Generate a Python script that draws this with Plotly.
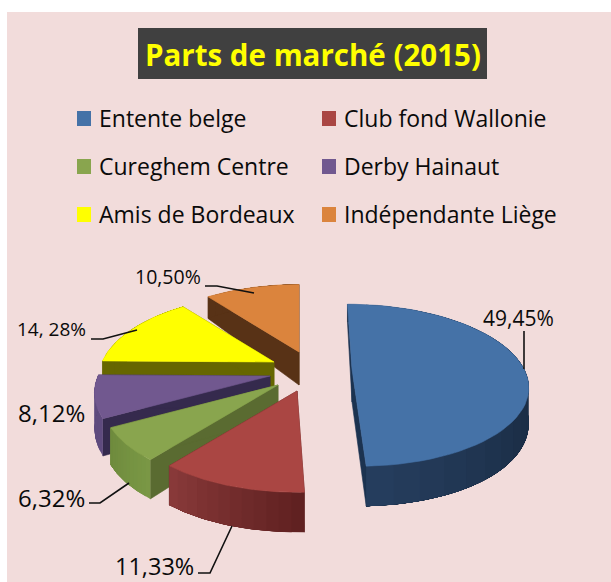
import numpy as np
import plotly.graph_objects as go

# ---- data ----
categories = ["Entente belge", "Club fond Wallonie", "Cureghem Centre",
              "Derby Hainaut", "Amis de Bordeaux", "Indépendante Liège"]
shares = [49.45, 11.33, 6.32, 8.12, 14.28, 10.50]
value_labels = ["49,45%", "11,33%", "6,32%", "8,12%", "14, 28%", "10,50%"]
title_text = "Parts de marché (2015)"

# ---- style ----
top_colors = ["#4572A7", "#AA4643", "#89A54E", "#71588F", "#FFFF00", "#DB843D"]
face_colors = ["#1c3350", "#5e2222", "#5a6b31", "#352a4d", "#666600", "#583216"]
rim_stops = [
    ["#1b2e47", "#1b2e47", "#1b2e47", "#263e5e"],
    ["#5e2020", "#8a3a3a"],
    ["#7a9845", "#6e8a3d"],
    ["#5f4b7e", "#5f4b7e"],
    ["#666600", "#666600"],
    ["#583216", "#583216"],
]
explode = [(50, -1), (-5, 21), (-24, 15), (-32, 6), (-28, -8), (-3, -18)]
shear = [0.07, 0, 0, 0, 0, 0]
yscale = [0.96, 1, 1, 1, 1, 1]
CX, CY, A, B, P = 302, 370, 172, 81, 0.2
START = 0.0


def proj(theta, i):
    t = np.radians(theta)
    s = 1 / (1 + P * np.cos(t))
    y = -B * np.cos(t) * s * yscale[i]
    return A * np.sin(t) * s + shear[i] * y, y


def depth(y):
    return 33 - 11.1 * y - 4.1 * y * y


def hex_mix(stops, f):
    f = min(max(f, 0), 1) * (len(stops) - 1)
    i = min(int(f), len(stops) - 2)
    u = f - i
    a = [int(stops[i][k:k + 2], 16) for k in (1, 3, 5)]
    b = [int(stops[i + 1][k:k + 2], 16) for k in (1, 3, 5)]
    return "rgb(%d,%d,%d)" % tuple(round(p + (q - p) * u) for p, q in zip(a, b))


def poly(xs, ys, color, lw=0.6):
    return go.Scatter(x=xs, y=ys, mode="lines", fill="toself", fillcolor=color,
                      line=dict(color=color, width=lw), hoverinfo="skip", showlegend=False)


fig = go.Figure()
sweeps = np.array(shares) / sum(shares) * 360
starts = START + np.concatenate([[0], np.cumsum(sweeps)[:-1]])
draw_order = [5, 4, 3, 2, 1, 0]
for i in draw_order:
    t0, t1 = starts[i], starts[i] + sweeps[i]
    ax, ay = CX + explode[i][0], CY + explode[i][1]
    d0 = depth(0)
    for t in (t0, t1):
        px, py = proj(t, i)
        dr = depth(np.cos(np.radians(t)))
        fig.add_trace(poly([ax, ax + px, ax + px, ax, ax],
                           [ay, ay + py, ay + py + dr, ay + d0, ay], face_colors[i]))
    # outer wall: bands painted from the far end, each one running under the next
    n = 12 if i != 0 else 24
    th = np.linspace(t0, t1, n + 1)
    for k in range(n):
        band = np.linspace(th[k], t1, 40 if k < n - 1 else 3)
        p = [proj(t, i) for t in band]
        dd = [depth(np.cos(np.radians(t))) for t in band]
        xs = [ax + q[0] for q in p]
        yt = [ay + q[1] for q in p]
        yb = [yy + d for yy, d in zip(yt, dd)]
        c = hex_mix(rim_stops[i], (k + 0.5) / n)
        fig.add_trace(poly(xs + xs[::-1] + [xs[0]], yt + yb[::-1] + [yt[0]], c, 0))
    th = np.linspace(t0, t1, 60)
    pts = [proj(t, i) for t in th]
    fig.add_trace(poly([ax] + [ax + p[0] for p in pts] + [ax],
                       [ay] + [ay + p[1] for p in pts] + [ay], top_colors[i]))

# leader lines
leaders = [
    ([524, 524], [331, 369]),
    ([198, 210, 232], [573, 573, 526]),
    ([89, 100, 129], [503, 503, 483]),
    ([91, 103, 137], [339, 339, 330]),
    ([205, 217, 254], [286, 286, 293]),
]
for lx, ly in leaders:
    fig.add_trace(go.Scatter(x=lx, y=ly, mode="lines", line=dict(color="#111111", width=1.6),
                             hoverinfo="skip", showlegend=False))

FONT = "Open Sans"
annotations = []
def txt(x, y, s, size, color="#0a0a0a", anchor="left", bold=False):
    annotations.append(dict(x=x, y=y, xref="x", yref="y", text=f"<b>{s}</b>" if bold else s,
                            showarrow=False, xanchor=anchor, yanchor="middle",
                            font=dict(family=FONT, size=size, color=color)))

txt(312.5, 54, title_text, 29.5, "#FFFF00", "center", True)

fig.add_shape(type="rect", x0=7, x1=611, y0=12, y1=582, fillcolor="#F2DCDB", line_width=0, layer="below")
fig.add_shape(type="rect", x0=138, x1=487, y0=28, y1=79, fillcolor="#404040", line_width=0, layer="below")

leg_x = [77, 322]
leg_y = [119, 167, 215]
for i, name in enumerate(categories):
    x0, y0 = leg_x[i % 2], leg_y[i // 2]
    fig.add_shape(type="rect", x0=x0, x1=x0 + 14, y0=y0 - 8, y1=y0 + 7,
                  fillcolor=top_colors[i], line_width=0, layer="below")
    txt(x0 + 20, y0 - 1, name, 23)

label_pos = [(518, 318, 21), (154, 565.5, 23.5), (51, 497, 24), (51, 412, 24), (51.5, 329, 19), (168, 276, 19.5)]
for s, (x, y, size) in zip(value_labels, label_pos):
    txt(x, y, s, size, anchor="center")

fig.update_layout(
    width=611, height=582, margin=dict(l=0, r=0, t=0, b=0), paper_bgcolor="white",
    plot_bgcolor="rgba(0,0,0,0)", showlegend=False, annotations=annotations,
    xaxis=dict(range=[0, 611], visible=False, fixedrange=True),
    yaxis=dict(range=[582, 0], visible=False, fixedrange=True),
)
fig.write_html("out.html", post_script="document.body.style.margin='0';document.body.style.overflow='hidden';",
               config={"displayModeBar": False})
